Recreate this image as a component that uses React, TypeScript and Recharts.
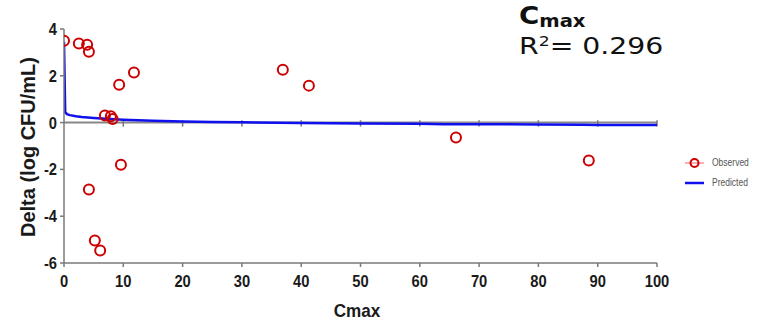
import React from 'react';
import { ComposedChart, Scatter, Line, XAxis, YAxis, ReferenceLine } from 'recharts';

// observed deltas
const obsCmax = [0, 2.5, 3.9, 4.2, 6.9, 7.9, 8.2, 9.3, 11.8, 36.9, 41.3, 66.1, 88.5, 9.6, 4.2, 5.2, 6.1];
const obsDelta = [3.5, 3.38, 3.33, 3.03, 0.3, 0.27, 0.15, 1.62, 2.14, 2.26, 1.58, -0.64, -1.62, -1.8, -2.86, -5.04, -5.47];

// predicted curve
const predCmax = [0, 0.2, 0.5, 1, 2, 3, 5, 7, 10, 15, 20, 25, 30, 40, 50, 60, 64, 70, 80, 87.5, 90, 100];
const predDelta = [3.45, 0.45, 0.36, 0.32, 0.27, 0.24, 0.2, 0.16, 0.12, 0.08, 0.05, 0.03, 0.01, -0.02, -0.04, -0.05, -0.07, -0.07, -0.08, -0.09, -0.1, -0.1];

const xTicks = [0, 10, 20, 30, 40, 50, 60, 70, 80, 90, 100];
const yTicks = [-6, -4, -2, 0, 2, 4];

const observed = obsCmax.map((x, i) => ({ x, y: obsDelta[i] }));
const predicted = predCmax.map((x, i) => ({ x, y: predDelta[i] }));

const RED = '#cc0000';
const BLUE = '#1010ee';
const AXIS = '#7a7a7a';
const tickFont = 'Liberation Sans, Arial, sans-serif';

const XTick = (props: any) => {
  const { x, y, payload } = props;
  return (
    <text x={0} y={0} transform={`translate(${x},${y + 18}) scale(0.92,1)`} textAnchor="middle"
      fontFamily={tickFont} fontWeight="bold" fontSize={16} fill="#1a1a1a">
      {payload.value}
    </text>
  );
};

const YTick = (props: any) => {
  const { x, y, payload } = props;
  return (
    <text x={0} y={0} transform={`translate(${x - 1},${y + 6}) scale(0.92,1)`} textAnchor="end"
      fontFamily={tickFont} fontWeight="bold" fontSize={16} fill="#1a1a1a">
      {payload.value}
    </text>
  );
};

const Circle = (props: any) => {
  const { cx, cy } = props;
  return <circle cx={cx} cy={cy} r={5} fill="none" stroke={RED} strokeWidth={2} />;
};

const LegendBox = () => (
  <div style={{ position: 'absolute', left: 684, top: 153, fontFamily: tickFont, fontSize: 10, color: '#555', lineHeight: '20px' }}>
    <div style={{ display: 'flex', alignItems: 'center' }}>
      <svg width={22} height={12}>
        <line x1={1} y1={6} x2={20} y2={6} stroke="#ff6060" strokeWidth={1} />
        <circle cx={10.5} cy={6} r={4} fill="none" stroke={RED} strokeWidth={2} />
      </svg>
      <span style={{ marginLeft: 6, display: 'inline-block', transform: 'scaleX(0.85)', transformOrigin: 'left' }}>Observed</span>
    </div>
    <div style={{ display: 'flex', alignItems: 'center' }}>
      <svg width={22} height={12}>
        <line x1={1} y1={6} x2={20} y2={6} stroke={BLUE} strokeWidth={2.5} />
      </svg>
      <span style={{ marginLeft: 6, display: 'inline-block', transform: 'scaleX(0.85)', transformOrigin: 'left' }}>Predicted</span>
    </div>
  </div>
);

export default function App() {
  return (
    <div style={{ position: 'relative', width: 765, height: 327, background: '#fff' }}>
      <style>{'body{margin:0}'}</style>
      <ComposedChart width={765} height={327} margin={{ top: 29, right: 108, bottom: 34, left: 0 }}>
        <XAxis type="number" dataKey="x" domain={[0, 100]} ticks={xTicks} height={30}
          stroke={AXIS} strokeWidth={1.5} tickSize={4} tick={<XTick />} allowDataOverflow />
        <YAxis type="number" dataKey="y" domain={[-6, 4]} ticks={yTicks} width={64}
          stroke={AXIS} strokeWidth={1.5} tickSize={4} tick={<YTick />} allowDataOverflow />
        <ReferenceLine y={0} stroke="#888" strokeWidth={2} />
        {xTicks.slice(1).map((t) => (
          <ReferenceLine key={t} segment={[{ x: t, y: -0.17 }, { x: t, y: 0.1 }]} stroke="#777" strokeWidth={1.5} />
        ))}
        <Line data={predicted} dataKey="y" type="linear" stroke={BLUE} strokeWidth={2.5} dot={false}
          isAnimationActive={false} name="Predicted" />
        <Scatter data={observed} dataKey="y" shape={<Circle />} isAnimationActive={false} name="Observed" />
      </ComposedChart>
      <LegendBox />
      <div style={{ position: 'absolute', left: 357, top: 300, transform: 'translateX(-50%) scaleX(0.9)',
        fontFamily: tickFont, fontWeight: 'bold', fontSize: 19, color: '#1a1a1a' }}>Cmax</div>
      <div style={{ position: 'absolute', left: 28, top: 147, transform: 'translate(-50%,-50%) rotate(-90deg)',
        whiteSpace: 'nowrap', fontFamily: tickFont, fontWeight: 'bold', fontSize: 20, color: '#1a1a1a' }}>
        Delta (log CFU/mL)
      </div>
      <div style={{ position: 'absolute', left: 519, top: 4, height: 26, lineHeight: '24px', fontFamily: 'DejaVu Sans, sans-serif',
        color: '#111', transform: 'scaleX(1.15)', transformOrigin: 'left', whiteSpace: 'nowrap' }}>
        <span style={{ fontSize: 24, fontWeight: 'bold' }}>C</span>
        <span style={{ fontSize: 17, fontWeight: 'bold', position: 'relative', top: 3 }}>max</span>
      </div>
      <div style={{ position: 'absolute', left: 519, top: 35, lineHeight: '23px', fontFamily: 'DejaVu Sans, sans-serif', fontSize: 23,
        color: '#111', transform: 'scaleX(1.23)', transformOrigin: 'left', whiteSpace: 'nowrap' }}>
        R<span style={{ fontSize: 14, position: 'relative', top: -8 }}>2</span>= 0.296
      </div>
    </div>
  );
}
